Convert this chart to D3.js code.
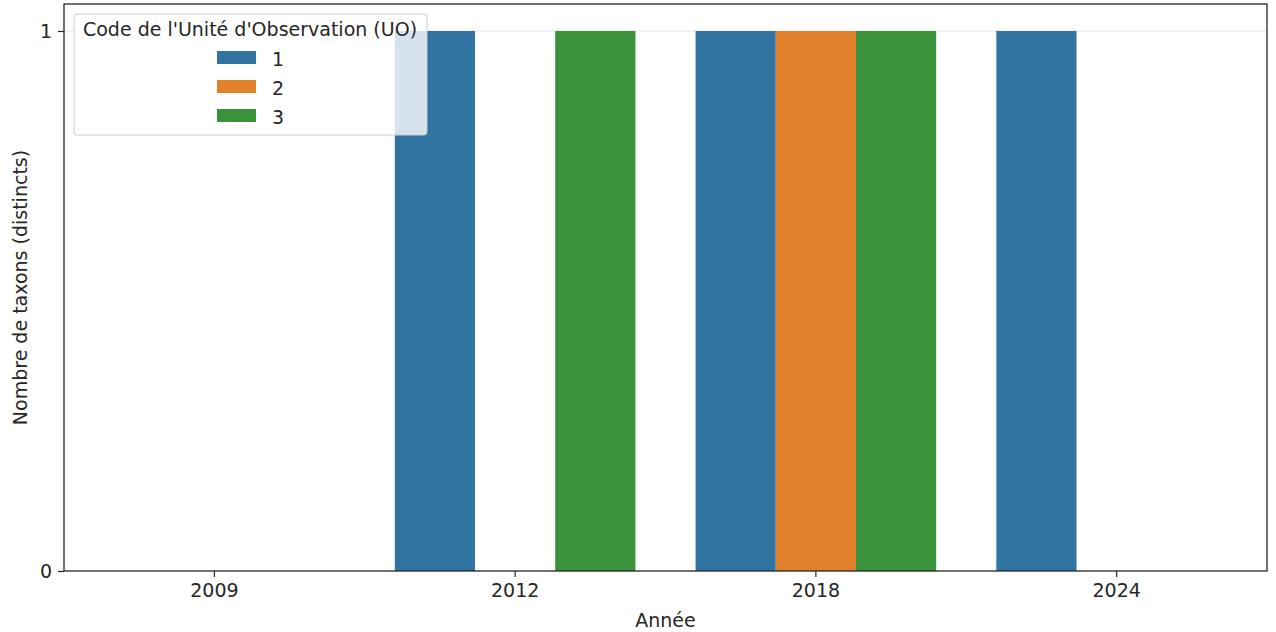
<!DOCTYPE html>
<html>
<head>
<meta charset="utf-8">
<script src="https://cdn.jsdelivr.net/npm/d3@7"></script>
<style>
body { margin: 0; background: #fff; }
text { font-family: "DejaVu Sans", sans-serif; fill: #262626; }
</style>
</head>
<body>
<div id="chart"></div>
<script>
// data
var years = ["2009", "2012", "2018", "2024"];
var uos = ["1", "2", "3"];
var uo1 = [0, 1, 1, 1];
var uo2 = [0, 0, 1, 0];
var uo3 = [0, 1, 1, 0];
var yTicks = [0, 1];
var colors = ["#3274a1", "#e1812c", "#3a923a"];

var series = [uo1, uo2, uo3];
var rows = [];
years.forEach(function(y, i) {
	uos.forEach(function(u, j) {
		rows.push({year: y, uo: u, value: series[j][i], k: j});
	});
});

let w = 1276, h = 632;
var mLeft = 64, mRight = 1267, mTop = 4, mBottom = 571;
var fs = 19;

var svg = d3.select("#chart").append("svg")
	.attr("width", w)
	.attr("height", h);

// seaborn: bars fill 0.8 of each category slot
var x = d3.scaleBand().domain(years).range([mLeft, mRight]);
var slot = x.bandwidth();
var inner = d3.scaleBand().domain(uos).range([0, slot * 0.8]);
var y = d3.scaleLinear().domain([0, 1.05]).range([mBottom, mTop]);

// grid
svg.append("g").selectAll("line")
	.data(yTicks.filter(function(d) { return d > 0; }))
	.enter().append("line")
	.attr("x1", mLeft).attr("x2", mRight)
	.attr("y1", function(d) { return y(d); })
	.attr("y2", function(d) { return y(d); })
	.attr("stroke", "#e6e6e6")
	.attr("stroke-width", 1.2);

// bars
svg.append("g").selectAll("rect")
	.data(rows)
	.enter().append("rect")
	.attr("x", function(d) { return x(d.year) + slot * 0.1 + inner(d.uo); })
	.attr("width", inner.bandwidth())
	.attr("y", function(d) { return y(d.value); })
	.attr("height", function(d) { return mBottom - y(d.value); })
	.attr("fill", function(d) { return colors[d.k]; });

// spines
svg.append("rect")
	.attr("x", mLeft).attr("y", mTop)
	.attr("width", mRight - mLeft).attr("height", mBottom - mTop)
	.attr("fill", "none")
	.attr("stroke", "#262626")
	.attr("stroke-width", 1.3);

// axes
var xAxis = svg.append("g")
	.attr("transform", "translate(0," + mBottom + ")")
	.call(d3.axisBottom(x).tickSize(6).tickPadding(7));
var yAxis = svg.append("g")
	.attr("transform", "translate(" + mLeft + ",0)")
	.call(d3.axisLeft(y).tickValues(yTicks).tickFormat(d3.format("d")).tickSize(6).tickPadding(6));
[xAxis, yAxis].forEach(function(a) {
	a.select(".domain").remove();
	a.selectAll("line").attr("stroke", "#262626").attr("stroke-width", 1.2);
	a.selectAll("text").attr("font-size", fs).attr("fill", "#262626")
		.style("font-family", "DejaVu Sans, sans-serif");
});

// axis labels
svg.append("text")
	.attr("x", (mLeft + mRight) / 2).attr("y", 627)
	.attr("text-anchor", "middle").attr("font-size", fs)
	.text("Année");
svg.append("text")
	.attr("transform", "translate(27," + (mTop + mBottom) / 2 + ") rotate(-90)")
	.attr("text-anchor", "middle").attr("font-size", fs)
	.text("Nombre de taxons (distincts)");

// legend
var lg = svg.append("g");
lg.append("rect")
	.attr("x", 74).attr("y", 14)
	.attr("width", 353).attr("height", 121)
	.attr("rx", 3)
	.attr("fill", "#fff").attr("fill-opacity", 0.8)
	.attr("stroke", "#cccccc").attr("stroke-width", 1);
lg.append("text")
	.attr("x", 250).attr("y", 36)
	.attr("text-anchor", "middle").attr("font-size", fs)
	.text("Code de l'Unité d'Observation (UO)");
var items = lg.selectAll(".item")
	.data(uos)
	.enter().append("g")
	.attr("transform", function(d, i) { return "translate(0," + (i * 29) + ")"; });
items.append("rect")
	.attr("x", 217).attr("y", 51)
	.attr("width", 39).attr("height", 13)
	.attr("fill", function(d, i) { return colors[i]; });
items.append("text")
	.attr("x", 272).attr("y", 66)
	.attr("font-size", fs)
	.text(function(d) { return d; });
</script>
</body>
</html>
